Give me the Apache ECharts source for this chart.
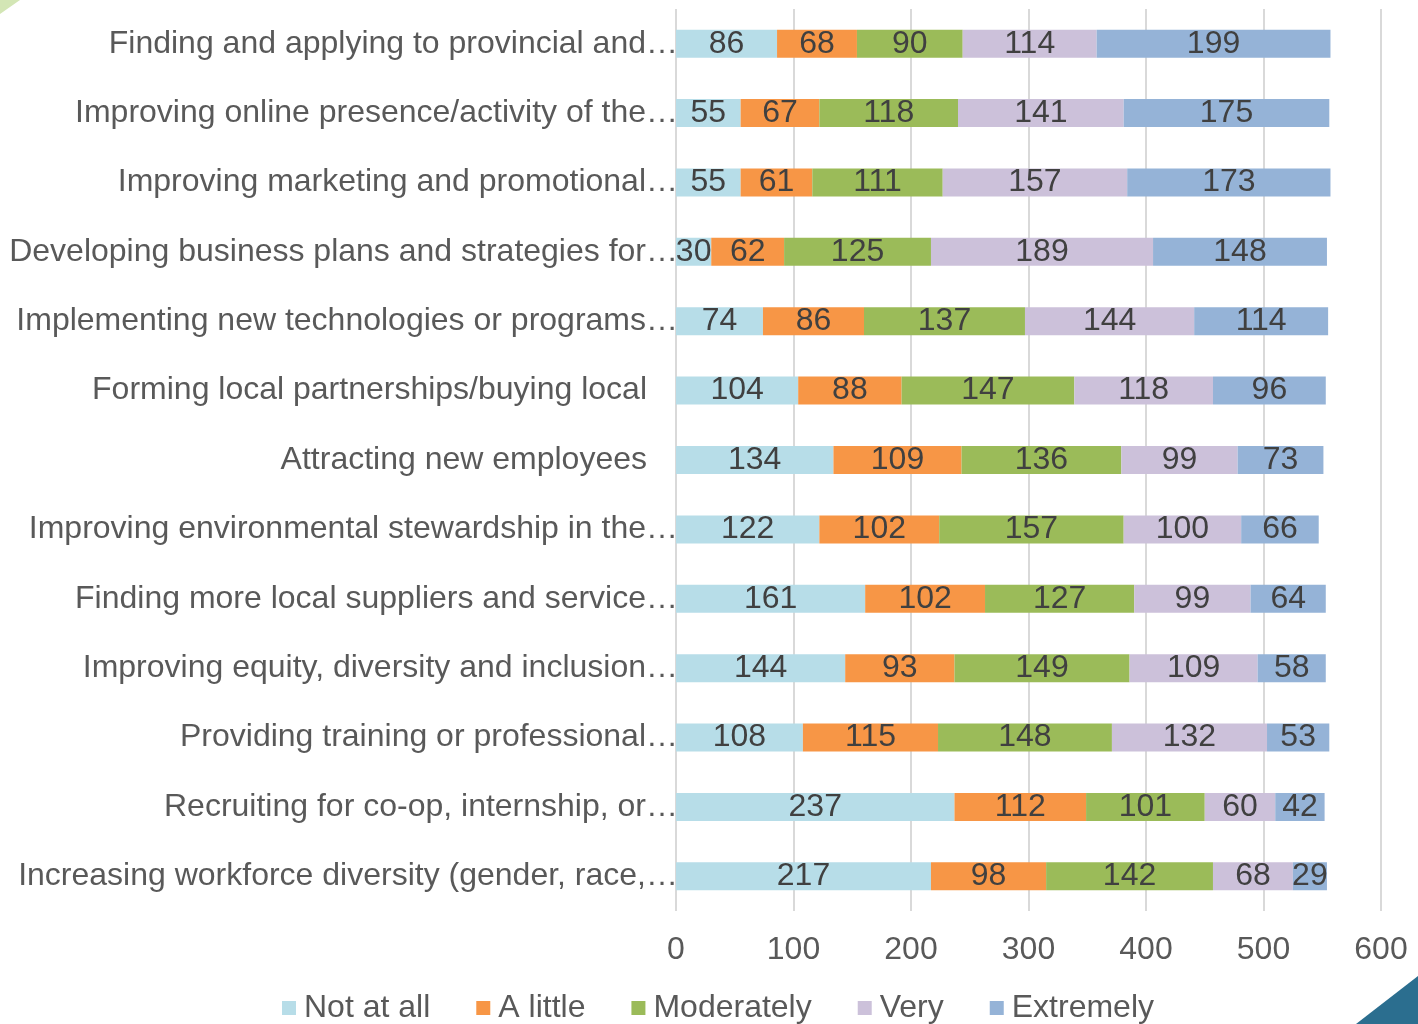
<!DOCTYPE html>
<html>
<head>
<meta charset="utf-8">
<script src="https://cdn.jsdelivr.net/npm/echarts@6/dist/echarts.min.js"></script>
<style>html,body{margin:0;padding:0;background:#fff;}#c{width:1418px;height:1024px;}</style>
</head>
<body>
<div id="c"></div>
<script>
const categories = [
  "Finding and applying to provincial and…",
  "Improving online presence/activity of the…",
  "Improving marketing and promotional…",
  "Developing business plans and strategies for…",
  "Implementing new technologies or programs…",
  "Forming local partnerships/buying local",
  "Attracting new employees",
  "Improving environmental stewardship in the…",
  "Finding more local suppliers and service…",
  "Improving equity, diversity and inclusion…",
  "Providing training or professional…",
  "Recruiting for co-op, internship, or…",
  "Increasing workforce diversity (gender, race,…"
];
const seriesNames = ["Not at all", "A little", "Moderately", "Very", "Extremely"];
const notAtAll   = [86, 55, 55, 30, 74, 104, 134, 122, 161, 144, 108, 237, 217];
const aLittle    = [68, 67, 61, 62, 86, 88, 109, 102, 102, 93, 115, 112, 98];
const moderately = [90, 118, 111, 125, 137, 147, 136, 157, 127, 149, 148, 101, 142];
const very       = [114, 141, 157, 189, 144, 118, 99, 100, 99, 109, 132, 60, 68];
const extremely  = [199, 175, 173, 148, 114, 96, 73, 66, 64, 58, 53, 42, 29];
const xTicks = [0, 100, 200, 300, 400, 500, 600];

const colors = ["#b7dde8", "#f79646", "#9bbb59", "#ccc1da", "#95b3d7"];
const values = [notAtAll, aLittle, moderately, very, extremely];
const FONT = "Liberation Sans, Arial, sans-serif";

const chart = echarts.init(document.getElementById('c'));
chart.setOption({
  animation: false,
  textStyle: { fontFamily: FONT },
  grid: { left: 676, right: 37, top: 9, bottom: 113, containLabel: false },
  legend: {
    top: 987,
    left: 277,
    itemWidth: 14,
    itemHeight: 14,
    itemGap: 46,
    icon: 'rect',
    textStyle: { fontSize: 32, color: '#595959', fontFamily: FONT, padding: [0, 0, 0, 3] },
    data: seriesNames
  },
  xAxis: {
    type: 'value',
    min: xTicks[0],
    max: xTicks[xTicks.length - 1],
    interval: 100,
    axisLine: { show: false },
    axisTick: { show: false },
    splitLine: { lineStyle: { color: '#d9d9d9', width: 2 } },
    axisLabel: { fontSize: 32, color: '#595959', margin: 23, fontFamily: FONT }
  },
  yAxis: {
    type: 'category',
    inverse: true,
    data: categories,
    axisLine: { show: false },
    axisTick: { show: false },
    axisLabel: {
      margin: 0,
      fontSize: 32,
      color: '#595959',
      fontFamily: FONT,
      formatter: function (v) {
        return v.indexOf('…') >= 0 ? '{t|' + v + '}' : '{n|' + v + '}';
      },
      rich: {
        t: { fontSize: 32, color: '#595959', fontFamily: FONT, padding: [0, -2, 0, 0] },
        n: { fontSize: 32, color: '#595959', fontFamily: FONT, padding: [0, 29, 0, 0] }
      }
    }
  },
  graphic: [
    { type: 'polygon', shape: { points: [[1418, 976], [1418, 1024], [1356, 1024]] }, style: { fill: '#2b6e8f' } },
    { type: 'polygon', shape: { points: [[0, 0], [20, 0], [0, 14]] }, style: { fill: '#d3e6b5' } }
  ],
  series: seriesNames.map((name, i) => ({
    name: name,
    type: 'bar',
    stack: 'total',
    barWidth: 28,
    itemStyle: { color: colors[i] },
    label: {
      show: true,
      position: 'inside',
      fontSize: 32,
      color: '#404040',
      fontFamily: FONT
    },
    data: values[i]
  }))
});
</script>
</body>
</html>
